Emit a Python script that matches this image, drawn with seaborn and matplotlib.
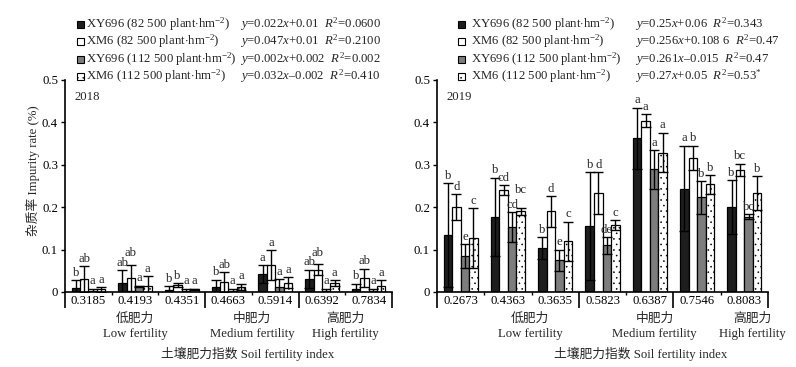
import numpy as np
import pandas as pd
import matplotlib
matplotlib.use("Agg")
import matplotlib.pyplot as plt
import matplotlib.transforms as mtransforms
from matplotlib.patches import Rectangle
import seaborn as sns

# %%
# data
series = ["XY696 82500", "XM6 82500", "XY696 112500", "XM6 112500"]
legend_labels = [
    r"XY696 (82 500 plant$\cdot$hm$^{-2}$)",
    r"XM6 (82 500 plant$\cdot$hm$^{-2}$)",
    r"XY696 (112 500 plant$\cdot$hm$^{-2}$)",
    r"XM6 (112 500 plant$\cdot$hm$^{-2}$)",
]

fi_2018 = ["0.3185", "0.4193", "0.4351", "0.4663", "0.5914", "0.6392", "0.7834"]
xy82_2018 = [0.009, 0.022, 0.004, 0.012, 0.043, 0.031, 0.006]
xy82_2018_sd = [0.019, 0.029, 0.009, 0.017, 0.021, 0.022, 0.014]
xm82_2018 = [0.031, 0.033, 0.016, 0.024, 0.063, 0.053, 0.033]
xm82_2018_sd = [0.030, 0.031, 0.005, 0.023, 0.035, 0.014, 0.022]
xy112_2018 = [0.002, 0.013, 0.002, 0.002, 0.012, 0.002, 0.002]
xy112_2018_sd = [0.006, 0.002, 0.006, 0.006, 0.019, 0.006, 0.006]
xm112_2018 = [0.006, 0.014, 0.006, 0.012, 0.022, 0.021, 0.013]
xm112_2018_sd = [0.006, 0.023, 0.002, 0.008, 0.013, 0.007, 0.015]
let_2018 = [
    ["b", "ab", "b", "b", "a", "ab", "b"],
    ["ab", "ab", "b", "ab", "a", "ab", "ab"],
    ["a", "a", "a", "a", "a", "a", "a"],
    ["a", "a", "a", "a", "a", "a", "a"],
]
eq_2018 = [
    r"$y$=0.022$x$+0.01  $R^2$=0.0600",
    r"$y$=0.047$x$+0.01  $R^2$=0.2100",
    r"$y$=0.002$x$+0.002  $R^2$=0.002",
    r"$y$=0.032$x$–0.002  $R^2$=0.410",
]

fi_2019 = ["0.2673", "0.4363", "0.3635", "0.5823", "0.6387", "0.7546", "0.8083"]
xy82_2019 = [0.134, 0.177, 0.104, 0.156, 0.363, 0.244, 0.200]
xy82_2019_sd = [0.123, 0.093, 0.026, 0.127, 0.072, 0.101, 0.064]
xm82_2019 = [0.200, 0.240, 0.190, 0.233, 0.404, 0.316, 0.288]
xm82_2019_sd = [0.030, 0.012, 0.036, 0.050, 0.015, 0.029, 0.015]
xy112_2019 = [0.085, 0.153, 0.075, 0.110, 0.289, 0.223, 0.178]
xy112_2019_sd = [0.028, 0.035, 0.025, 0.020, 0.045, 0.039, 0.005]
xm112_2019 = [0.127, 0.190, 0.120, 0.158, 0.329, 0.254, 0.233]
xm112_2019_sd = [0.070, 0.008, 0.046, 0.012, 0.047, 0.022, 0.040]
let_2019 = [
    ["b", "b", "b", "b", "a", "a", "b"],
    ["d", "cd", "d", "d", "a", "b", "bc"],
    ["e", "cd", "e", "de", "a", "b", "bc"],
    ["c", "bc", "c", "c", "a", "b", "b"],
]
eq_2019 = [
    r"$y$=0.25$x$+0.06  $R^2$=0.343",
    r"$y$=0.256$x$+0.108 6  $R^2$=0.47",
    r"$y$=0.261$x$–0.015  $R^2$=0.47",
    r"$y$=0.27$x$+0.05  $R^2$=0.53$^{*}$",
]

groups_cn = ["低肥力", "中肥力", "高肥力"]
groups_en = ["Low fertility", "Medium fertility", "High fertility"]

# %%
# style
sns.set_theme(style="ticks")
plt.rcParams["font.family"] = ["Liberation Serif", "Noto Sans CJK SC"]
plt.rcParams["mathtext.fontset"] = "custom"
plt.rcParams["mathtext.rm"] = "Liberation Serif"
plt.rcParams["mathtext.it"] = "Liberation Serif:italic"
plt.rcParams["hatch.linewidth"] = 0.4

colors = ["#1e1e1e", "#ffffff", "#7d7d7d", "#ffffff"]
hatches = [None, None, None, "..."]
FS = 9.2
W, H = 796, 367

fig = plt.figure(figsize=(W / 100, H / 100), dpi=100)
ax1 = fig.add_axes([65 / W, 75 / H, 327 / W, 212 / H])
ax2 = fig.add_axes([437 / W, 75 / H, 331 / W, 212 / H])


def draw_panel(ax, fi, means, sds, letters, year, grp_x, title_x, nudge):
    df = pd.DataFrame({
        "fi": np.tile(fi, 4),
        "series": np.repeat(series, len(fi)),
        "val": np.concatenate(means),
    })
    sns.barplot(data=df, x="fi", y="val", hue="series", palette=colors,
                saturation=1, width=0.72, edgecolor="black", linewidth=0.9,
                legend=False, ax=ax)
    n = len(fi)
    for i, p in enumerate(ax.patches):
        if hatches[i // n]:
            p.set_hatch(hatches[i // n])
    # error bars + significance letters
    for k in range(4):
        xs = [ax.patches[k * n + j].get_x() + ax.patches[k * n + j].get_width() / 2
              for j in range(n)]
        ax.errorbar(xs, means[k], yerr=sds[k], fmt="none", ecolor="black",
                    elinewidth=1.0, capsize=3.3, capthick=1.0)
        for j in range(n):
            dy = nudge.get((k, j), 0)
            ax.text(xs[j], means[k][j] + sds[k][j] + 0.003 + dy, letters[k][j],
                    ha="center", va="bottom", fontsize=FS)

    ax.set_ylim(0, 0.5)
    ax.set_xlim(-0.5, 6.5)
    ax.set_yticks([0, 0.1, 0.2, 0.3, 0.4, 0.5])
    ax.set_yticklabels(["0", "0.1", "0.2", "0.3", "0.4", "0.5"])
    ax.set_xlabel("")
    ax.set_ylabel("")
    sns.despine(ax=ax)
    for s in ["left", "bottom"]:
        ax.spines[s].set_linewidth(1.2)
        ax.spines[s].set_color("black")
    ax.tick_params(axis="x", length=0, pad=2.5, labelsize=FS, colors="black")
    ax.tick_params(axis="y", length=3, width=1, direction="out", pad=2,
                   labelsize=FS, colors="black")

    trans = mtransforms.blended_transform_factory(ax.transData, ax.transAxes)
    ax.vlines([-0.5, 2.5, 4.5, 6.5], -0.075, 0, transform=trans,
              colors="black", lw=1.2, clip_on=False)
    ax.vlines([0.5, 1.5, 3.5, 5.5], -0.012, 0, transform=trans,
              colors="black", lw=1.0, clip_on=False)
    for gx, cn, en in zip(grp_x, groups_cn, groups_en):
        ax.text(gx, -0.125, cn, transform=trans, ha="center", va="center",
                fontsize=FS)
        ax.text(gx, -0.2, en, transform=trans, ha="center", va="center",
                fontsize=FS)
    ax.text(title_x, -0.29, "土壤肥力指数 Soil fertility index", transform=trans,
            ha="center", va="center", fontsize=FS)
    ax.text(0.028, 0.92, year, transform=ax.transAxes, ha="left", va="center",
            fontsize=FS)


draw_panel(ax1, fi_2018,
           [xy82_2018, xm82_2018, xy112_2018, xm112_2018],
           [xy82_2018_sd, xm82_2018_sd, xy112_2018_sd, xm112_2018_sd],
           let_2018, "2018", [1, 3.5, 5.5], 3.4,
           {(1, 1): 0.01, (1, 5): 0.008})
draw_panel(ax2, fi_2019,
           [xy82_2019, xm82_2019, xy112_2019, xm112_2019],
           [xy82_2019_sd, xm82_2019_sd, xy112_2019_sd, xm112_2019_sd],
           let_2019, "2019", [1.47, 4.1, 6.18], 3.8, {(3, 1): 0.025})

# legend keys + labels + regression equations (figure pixels)
rows = [24, 41.5, 59, 76.5]
for mx, tx, ex, eqs in [(77, 86, 240, eq_2018), (458, 471, 635, eq_2019)]:
    for k, yy in enumerate(rows):
        fig.add_artist(Rectangle((mx / W, 1 - (yy + 3.5) / H), 7 / W, 7 / H,
                                 transform=fig.transFigure, facecolor=colors[k],
                                 edgecolor="black", linewidth=0.8,
                                 hatch=hatches[k]))
        fig.text(tx / W, 1 - yy / H, legend_labels[k], ha="left", va="center",
                 fontsize=FS)
        fig.text(ex / W, 1 - yy / H, eqs[k], ha="left", va="center", fontsize=FS)

fig.text(33 / W, 1 - 171 / H, "杂质率 Impurity rate (%)", rotation=90,
         ha="center", va="center", fontsize=FS)

fig.savefig("out.png", dpi=100)
